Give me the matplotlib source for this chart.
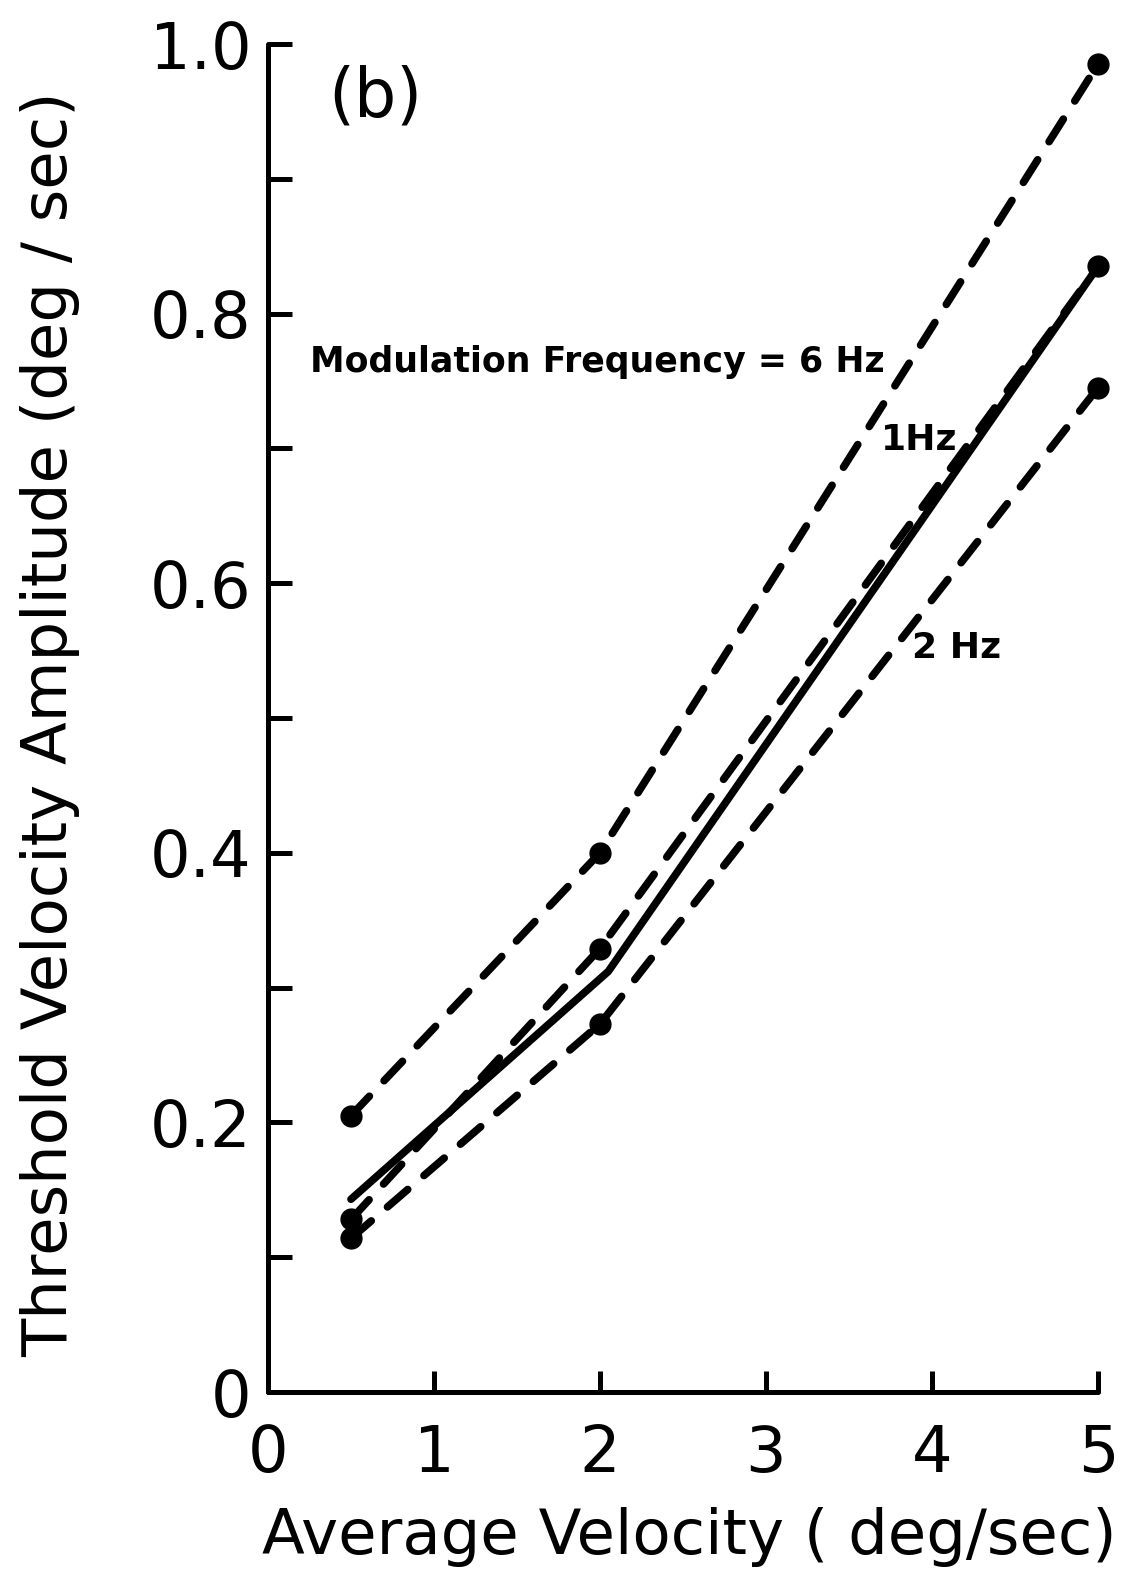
import matplotlib
matplotlib.use("Agg")
import matplotlib.pyplot as plt
from matplotlib.ticker import MultipleLocator

plt.rcParams['font.family'] = ['DejaVu Sans']

# Data
avg_velocity = [0.5, 2.0, 5.0]
thresh_6hz = [0.205, 0.400, 0.985]
thresh_1hz = [0.128, 0.329, 0.835]
thresh_2hz = [0.114, 0.273, 0.745]
solid_x = [0.5, 2.05, 5.0]
solid_y = [0.143, 0.312, 0.835]

xticks = [0, 1, 2, 3, 4, 5]
xtick_labels = ['0', '1', '2', '3', '4', '5']
yticks_major = [0, 0.2, 0.4, 0.6, 0.8, 1.0]
ytick_labels = ['0', '0.2', '0.4', '0.6', '0.8', '1.0']

fig = plt.figure(figsize=(11.31, 15.72), dpi=100)
ax = fig.add_axes([268/1131, 1 - 1392/1572, (1098-268)/1131, (1392-44)/1572])

lw = 5.5
dash = (0, (3.5, 2.8))
for ys in (thresh_6hz, thresh_1hz, thresh_2hz):
    ax.plot(avg_velocity, ys, color='black', lw=lw, linestyle=dash,
            dash_capstyle='round', marker='o', markersize=15,
            clip_on=False, zorder=3)
ax.plot(solid_x, solid_y, color='black', lw=lw, solid_capstyle='round',
        clip_on=False, zorder=3)

ax.set_xlim(0, 5)
ax.set_ylim(0, 1.0)
ax.spines['top'].set_visible(False)
ax.spines['right'].set_visible(False)
for s in ('left', 'bottom'):
    ax.spines[s].set_linewidth(3.6)
    ax.spines[s].set_capstyle('round')

ax.set_xticks(xticks)
ax.set_xticklabels(xtick_labels)
ax.set_yticks(yticks_major)
ax.set_yticklabels(ytick_labels)
ax.yaxis.set_minor_locator(MultipleLocator(0.1))
ax.tick_params(axis='both', which='both', direction='in', width=3.6,
               labelsize=46)
ax.tick_params(axis='y', which='both', length=17, pad=12)
ax.tick_params(axis='x', which='both', length=15, pad=22)

ax.set_xlabel('Average Velocity ( deg/sec)', fontsize=45)
ax.set_ylabel('Threshold Velocity Amplitude (deg / sec)', fontsize=45)
ax.xaxis.set_label_coords(0.508, -0.085)
ax.yaxis.set_label_coords(-0.226, 0.495)

ax.text(0.645, 0.96, '(b)', fontsize=48, ha='center', va='center')
ax.text(0.25, 0.764, 'Modulation Frequency = 6 Hz', fontsize=25,
        fontweight='bold', ha='left', va='center')
ax.text(3.69, 0.706, '1Hz', fontsize=26, fontweight='bold',
        ha='left', va='center')
ax.text(3.88, 0.552, '2 Hz', fontsize=26, fontweight='bold',
        ha='left', va='center')

fig.savefig('out.png', dpi=100)
